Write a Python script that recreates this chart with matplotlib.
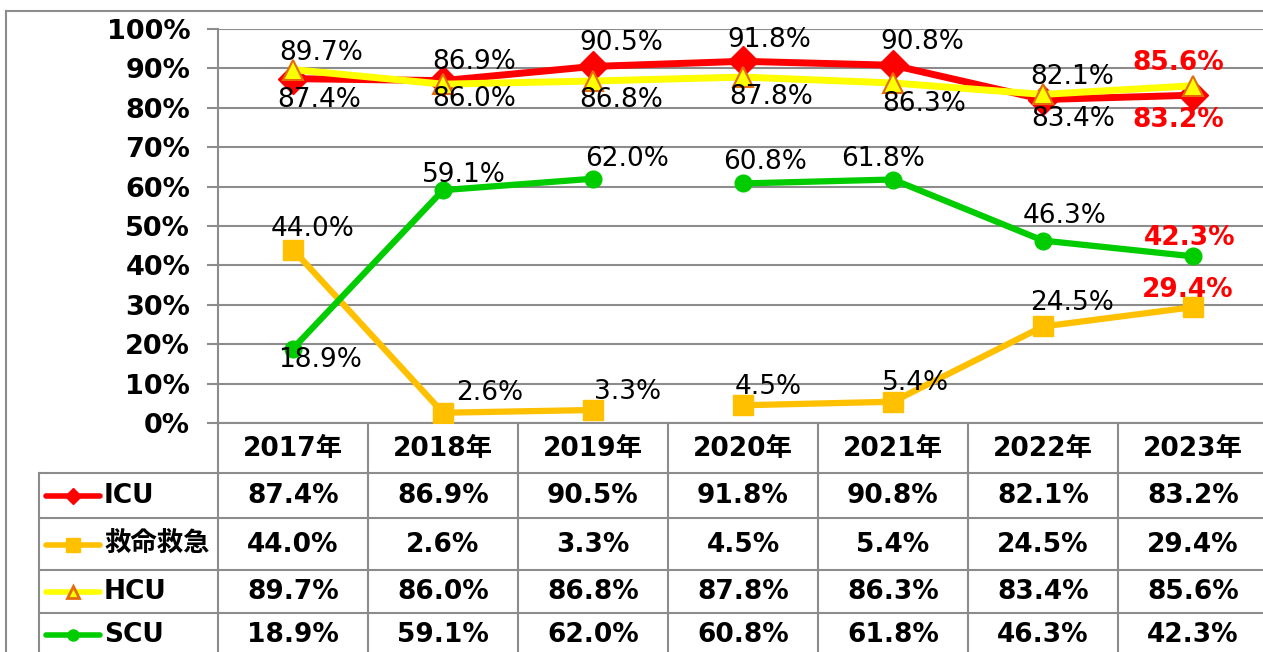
import numpy as np
import matplotlib
matplotlib.use("Agg")
import matplotlib.pyplot as plt
from matplotlib.lines import Line2D
from matplotlib.transforms import blended_transform_factory

plt.rcParams['font.family'] = ['DejaVu Sans', 'Noto Sans CJK JP']

# data
years = ['2017年', '2018年', '2019年', '2020年', '2021年', '2022年', '2023年']
icu = [87.4, 86.9, 90.5, 91.8, 90.8, 82.1, 83.2]
kyumei = [44.0, 2.6, 3.3, 4.5, 5.4, 24.5, 29.4]
hcu = [89.7, 86.0, 86.8, 87.8, 86.3, 83.4, 85.6]
scu = [18.9, 59.1, 62.0, 60.8, 61.8, 46.3, 42.3]
names = ['ICU', '救命救急', 'HCU', 'SCU']

# label offsets in pixels (dx, dy), layout only
icu_off = [(26, -21), (31, 19), (28, 23), (26, 21), (29, 23), (29, 23), (-15, -25)]
kyumei_off = [(20, 21), (47, 20), (35, 18), (25, 18), (22, 19), (29, 23), (-5, 17)]
hcu_off = [(28, 17), (31, -15), (28, -19), (28, -20), (31, -21), (30, -25), (-15, 23)]
scu_off = [(27, -11), (21, 15), (34, 20), (22, 21), (-10, 21), (22, 25), (-3, 18)]

# gap between 2019 and 2020 for some series
gap_series = {'救命救急', 'SCU'}

W, H = 1263, 652
fig = plt.figure(figsize=(W / 100, H / 100), dpi=100)
fig.patch.set_facecolor('white')

def fx(px):
    return px / W

def fy(py):
    return 1 - py / H

ax = fig.add_axes([fx(218), fy(423), fx(1268) - fx(218), fy(29) - fy(423)])
ax.set_xlim(-0.5, len(years) - 0.5)
ax.set_ylim(0, 100)

grid_c = '#8c8c8c'
ax.set_yticks(np.arange(0, 101, 10))
ax.set_yticklabels([f'{v}%' for v in range(0, 101, 10)], fontsize=19.5, fontweight='bold')
ax.tick_params(axis='y', length=8, width=1.5, color=grid_c, pad=12)
ax.set_xticks([])
ax.grid(axis='y', color=grid_c, lw=1.5)
ax.set_axisbelow(True)
for s in ['top', 'right']:
    ax.spines[s].set_visible(False)
ax.spines['left'].set_color(grid_c)
ax.spines['left'].set_linewidth(1.5)
ax.spines['bottom'].set_color(grid_c)
ax.spines['bottom'].set_linewidth(1.5)

styles = {
    'ICU': dict(color='#FF0000', lw=5, marker='D', ms=15, mfc='#FF0000', mec='#FF0000'),
    '救命救急': dict(color='#FFC000', lw=4.5, marker='s', ms=15, mfc='#FFC000', mec='#FFC000'),
    'HCU': dict(color='#FFFF00', lw=5, marker='^', ms=15, mfc='#FFFF00', mec='#E46C0A', mew=1.5),
    'SCU': dict(color='#00CC00', lw=4.5, marker='o', ms=12, mfc='#00CC00', mec='#00CC00'),
}
series = [icu, kyumei, hcu, scu]
offsets = [icu_off, kyumei_off, hcu_off, scu_off]

x = np.arange(len(years))
for name, vals, offs in zip(names, series, offsets):
    st = styles[name]
    vals = np.array(vals)
    if name in gap_series:
        ax.plot(x[:3], vals[:3], **st, zorder=3)
        ax.plot(x[3:], vals[3:], **st, zorder=3)
    else:
        ax.plot(x, vals, **st, zorder=3)
    for i, (v, (dx, dy)) in enumerate(zip(vals, offs)):
        last = i == len(vals) - 1
        ax.annotate(f'{v:.1f}%', (x[i], v), xytext=(dx, dy), textcoords='offset pixels',
                    ha='center', va='center', fontsize=19,
                    color='#FF0000' if last else 'black',
                    fontweight='bold' if last else 'normal', zorder=5)

# outer chart border
fig.add_artist(Line2D([fx(6), fx(6)], [fy(11), fy(660)], color=grid_c, lw=1.5))
fig.add_artist(Line2D([fx(6), fx(1270)], [fy(11), fy(11)], color=grid_c, lw=1.5))

# data table below the plot
tb = blended_transform_factory(ax.transData, fig.transFigure)
row_edges = [423, 473, 518, 570, 613, 660]
row_centers = [449, 496, 545, 592, 635]
for b in np.arange(len(years) + 1) - 0.5:
    ax.add_line(Line2D([b, b], [fy(423), fy(660)], transform=tb, color=grid_c, lw=1.5, clip_on=False))
for ye in row_edges[1:-1]:
    fig.add_artist(Line2D([fx(39), fx(1270)], [fy(ye), fy(ye)], color=grid_c, lw=1.5))
fig.add_artist(Line2D([fx(39), fx(39)], [fy(473), fy(660)], color=grid_c, lw=1.5))

for i, yr in enumerate(years):
    ax.text(i, fy(row_centers[0]), yr, transform=tb, ha='center', va='center',
            fontsize=19, fontweight='bold', clip_on=False)
key_ms = {'ICU': 8, '救命救急': 10, 'HCU': 9, 'SCU': 8}
for r, (name, vals) in enumerate(zip(names, series)):
    yc = fy(row_centers[r + 1])
    for i, v in enumerate(vals):
        ax.text(i, yc, f'{v:.1f}%', transform=tb, ha='center', va='center',
                fontsize=19, fontweight='bold', clip_on=False)
    st = styles[name]
    fig.add_artist(Line2D([fx(46), fx(100)], [yc, yc], color=st['color'], lw=4,
                          solid_capstyle='round'))
    fig.add_artist(Line2D([fx(73)], [yc], ls='none', marker=st['marker'], ms=key_ms[name],
                          mfc=st['mfc'], mec=st['mec'], mew=2 if name == 'HCU' else 1))
    fig.text(fx(104), yc, name, ha='left', va='center', fontsize=19, fontweight='bold')

fig.savefig('out.png', dpi=100, facecolor='white')
